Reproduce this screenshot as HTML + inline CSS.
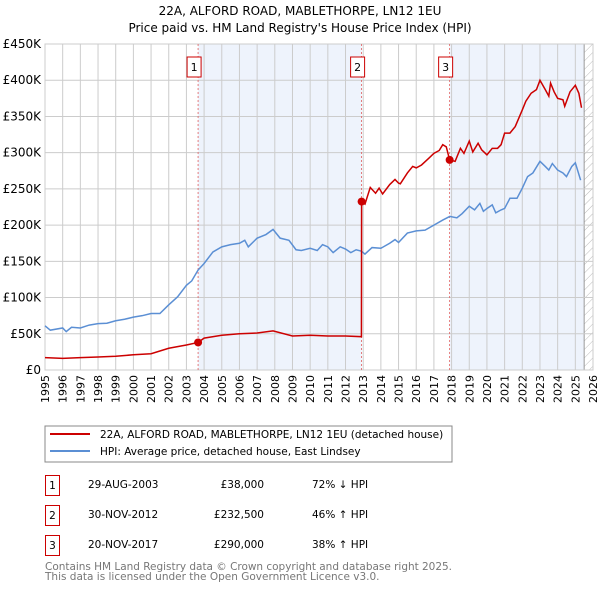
<!DOCTYPE html>
<html><head><meta charset="utf-8"><style>
body{margin:0;background:#fff;font-family:"Liberation Sans","DejaVu Sans",sans-serif;}
svg text{font-family:"DejaVu Sans","Liberation Sans",sans-serif;}
</style></head><body>
<svg id="chart" width="600" height="590" xmlns="http://www.w3.org/2000/svg">
<text x="300" y="15" text-anchor="middle" font-size="12">22A, ALFORD ROAD, MABLETHORPE, LN12 1EU</text>
<text x="300" y="32" text-anchor="middle" font-size="12">Price paid vs. HM Land Registry's House Price Index (HPI)</text>
<defs><pattern id="hatch" width="6" height="6" patternUnits="userSpaceOnUse" patternTransform="rotate(45)"><line x1="0" y1="0" x2="0" y2="6" stroke="#bbb" stroke-width="1"/></pattern></defs>
<g id="plot"></g>
<rect x="45" y="426" width="407" height="36" fill="#fff" stroke="#888"/>
<line x1="50" y1="434" x2="90" y2="434" stroke="#cc0000" stroke-width="2"/>
<text x="100" y="438" font-size="10.5">22A, ALFORD ROAD, MABLETHORPE, LN12 1EU (detached house)</text>
<line x1="50" y1="451" x2="90" y2="451" stroke="#5b8fd4" stroke-width="2"/>
<text x="100" y="455" font-size="10.5">HPI: Average price, detached house, East Lindsey</text>
<g font-size="10.5">
<rect x="45.5" y="475.5" width="14" height="20" fill="none" stroke="#cc0000"/><text x="52.5" y="489" text-anchor="middle">1</text>
<text x="88" y="488">29-AUG-2003</text><text x="264" y="488" text-anchor="end">£38,000</text><text x="312" y="488">72% ↓ HPI</text>
<rect x="45.5" y="505.5" width="14" height="20" fill="none" stroke="#cc0000"/><text x="52.5" y="519" text-anchor="middle">2</text>
<text x="88" y="518">30-NOV-2012</text><text x="264" y="518" text-anchor="end">£232,500</text><text x="312" y="518">46% ↑ HPI</text>
<rect x="45.5" y="535.5" width="14" height="20" fill="none" stroke="#cc0000"/><text x="52.5" y="549" text-anchor="middle">3</text>
<text x="88" y="548">20-NOV-2017</text><text x="264" y="548" text-anchor="end">£290,000</text><text x="312" y="548">38% ↑ HPI</text>
</g>
<text x="45" y="570" font-size="10.5" fill="#777" textLength="407">Contains HM Land Registry data © Crown copyright and database right 2025.</text>
<text x="45" y="580" font-size="10.5" fill="#777">This data is licensed under the Open Government Licence v3.0.</text>
</svg>
<script>
const hpiYears=[1995,1995.3,1996,1996.2,1996.5,1997,1997.5,1998,1998.5,1999,1999.5,2000,2000.5,2001,2001.5,2002,2002.5,2003,2003.3,2003.66,2004,2004.5,2005,2005.5,2006,2006.3,2006.5,2007,2007.5,2007.9,2008.3,2008.8,2009.2,2009.5,2010,2010.4,2010.7,2011,2011.3,2011.7,2012,2012.3,2012.6,2012.9,2013.1,2013.5,2014,2014.5,2014.8,2015,2015.5,2016,2016.5,2017,2017.5,2017.9,2018.3,2018.6,2019,2019.3,2019.6,2019.8,2020,2020.3,2020.5,2020.8,2021,2021.3,2021.7,2022,2022.3,2022.6,2023,2023.3,2023.5,2023.7,2024,2024.3,2024.5,2024.8,2025,2025.3];
const hpiValues=[61,55,58,53,59,58,62,64,64.5,68,70,73,75,78,78,90,101,117,123,138,147,163,170,173,175,179,170,182,187,194,182,179,166,165,168,165,173,170,162,170,167,162,166,164,160,169,168,175,180,176,189,192,193,200,207,212,210,216,226,221,230,219,223,228,217,221,223,237,237,251,267,272,288,281,276,285,276,272,267,281,286,262];
const priceYears=[1995,1996,1997,1998,1999,2000,2001,2002,2003,2003.66,2004,2005,2006,2007,2007.9,2009,2010,2011,2012,2012.9,2012.91,2013.1,2013.4,2013.7,2013.9,2014.1,2014.5,2014.8,2015,2015.1,2015.5,2015.8,2016,2016.3,2016.7,2017,2017.3,2017.5,2017.7,2017.89,2018.2,2018.5,2018.7,2019,2019.2,2019.5,2019.7,2020,2020.3,2020.6,2020.8,2021,2021.3,2021.6,2022,2022.2,2022.5,2022.8,2023,2023.3,2023.5,2023.6,2023.8,2024,2024.3,2024.4,2024.7,2025,2025.2,2025.35];
const priceValues=[17,16,17,18,19,21,22.5,30,34.5,38,44,48,50,51,54,47,48,47,47,46,232.5,229,252,244,251,243,256,263,258,257,272,281,279,283,292,299,303,311,308,290,288,306,299,316,301,313,304,297,306,306,311,327,327,336,359,371,382,387,400,387,378,396,384,375,373,364,384,393,382,362];
const saleYears=[2003.66,2012.91,2017.89];
const saleValues=[38,232.5,290];
const saleLabels=["1","2","3"];
const yTicks=[0,50,100,150,200,250,300,350,400,450];
const yTickLabels=["£0","£50K","£100K","£150K","£200K","£250K","£300K","£350K","£400K","£450K"];
const xYears=[];for(let y=1995;y<=2026;y++)xYears.push(y);

const X0=45,X1=593,Y0=370,Y1=44;
const xs=y=>X0+(y-1995)*(X1-X0)/31;
const ys=v=>Y0-v*(Y0-Y1)/450;
const NS="http://www.w3.org/2000/svg";
const g=document.getElementById('plot');
function mk(t,a){const e=document.createElementNS(NS,t);for(const k in a)e.setAttribute(k,a[k]);g.appendChild(e);return e;}
const sh1=mk('rect',{x:xs(saleYears[0]),y:Y1,width:xs(saleYears[1])-xs(saleYears[0]),height:Y0-Y1,fill:'#eef3fc'});


const sh2=mk('rect',{x:xs(saleYears[2]),y:Y1,width:xs(2025.5)-xs(saleYears[2]),height:Y0-Y1,fill:'#eef3fc'});


const ht=mk('rect',{x:xs(2025.5),y:Y1,width:X1-xs(2025.5),height:Y0-Y1,fill:'url(#hatch)'});


mk('line',{x1:xs(2025.5),y1:Y1,x2:xs(2025.5),y2:Y0,stroke:'#999'});
xYears.forEach(y=>{mk('line',{x1:xs(y),y1:Y1,x2:xs(y),y2:Y0,stroke:'#cccccc'});
 const t=mk('text',{x:0,y:0,transform:`translate(${xs(y)+4},${Y0+5}) rotate(-90)`,'text-anchor':'end','font-size':'11'});t.textContent=y;
 
 });
yTicks.forEach((v,i)=>{mk('line',{x1:X0,y1:ys(v),x2:X1,y2:ys(v),stroke:'#cccccc'});
 const t=mk('text',{x:X0-4,y:ys(v)+4,'text-anchor':'end','font-size':'12'});t.textContent=yTickLabels[i];
 
 });
mk('rect',{x:X0,y:Y1,width:X1-X0,height:Y0-Y1,fill:'none',stroke:'#cccccc'});
saleYears.forEach((y,i)=>{mk('line',{x1:xs(y),y1:Y1,x2:xs(y),y2:Y0,stroke:'#e06060','stroke-dasharray':'2,2','stroke-width':'0.8'});
 const b=mk('rect',{x:xs(y)-11,y:57,width:14,height:20,fill:'#fff',stroke:'#cc0000'});
 
 
 const t=mk('text',{x:xs(y)-4,y:71,'text-anchor':'middle','font-size':'11'});t.textContent=saleLabels[i];});
const hp=mk('polyline',{points:hpiYears.map((y,i)=>xs(y)+','+ys(hpiValues[i])).join(' '),fill:'none',stroke:'#5b8fd4','stroke-width':'1.5'});


const pp=mk('polyline',{points:priceYears.map((y,i)=>xs(y)+','+ys(priceValues[i])).join(' '),fill:'none',stroke:'#cc0000','stroke-width':'1.5'});


saleYears.forEach((y,i)=>{const c=mk('circle',{cx:xs(y),cy:ys(saleValues[i]),r:4,fill:'#cc0000'});
 
 });
</script>
</body></html>
